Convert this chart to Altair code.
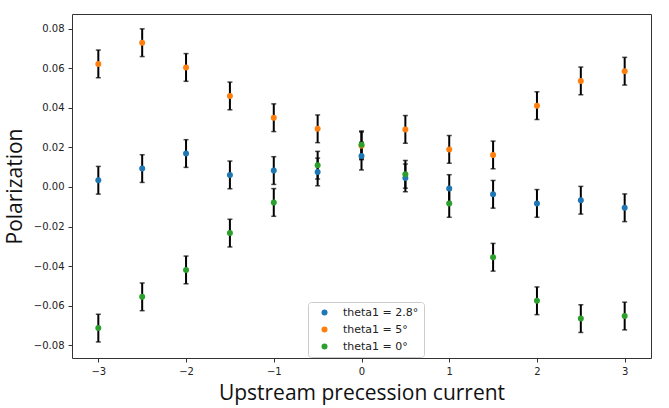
import altair as alt
import pandas as pd

x_vals = [-3, -2.5, -2, -1.5, -1, -0.5, 0, 0.5, 1, 1.5, 2, 2.5, 3]
series_names = ["theta1 = 2.8°", "theta1 = 5°", "theta1 = 0°"]
series_colors = ["#1f77b4", "#ff7f0e", "#2ca02c"]

pol_28 = [0.0034, 0.0093, 0.0169, 0.0061, 0.0083, 0.0076, 0.0156, 0.0046, -0.0008, -0.0037, -0.0083, -0.0067, -0.0105]
pol_5 = [0.0622, 0.0729, 0.0604, 0.0460, 0.0350, 0.0294, 0.0208, 0.0291, 0.0190, 0.0162, 0.0411, 0.0536, 0.0585]
pol_0 = [-0.0713, -0.0555, -0.0419, -0.0233, -0.0078, 0.0110, 0.0213, 0.0064, -0.0083, -0.0355, -0.0575, -0.0665, -0.0652]
err = 0.007

rows = []
for k, (name, vals) in enumerate(zip(series_names, [pol_28, pol_5, pol_0])):
    for xv, yv in zip(x_vals, vals):
        rows.append({"series": name, "order": k, "x": xv, "y": yv,
                     "lo": yv - err, "hi": yv + err})
df = pd.DataFrame(rows)

xscale = alt.Scale(domain=[-3.3, 3.3], nice=False, zero=False)
yscale = alt.Scale(domain=[-0.0864, 0.0874], nice=False, zero=False)
color = alt.Color("series:N",
                  scale=alt.Scale(domain=series_names, range=series_colors),
                  legend=alt.Legend(title=None, orient="none", legendX=236, legendY=288,
                                    symbolType="circle", symbolSize=36, symbolOffset=6,
                                    labelFont="DejaVu Sans", labelFontSize=11,
                                    labelColor="#222", rowPadding=5, labelOffset=13,
                                    padding=5, strokeColor="#cccccc", fillColor="white",
                                    cornerRadius=3, symbolStrokeWidth=0))

xax = alt.Axis(title="Upstream precession current", values=x_vals[::2], format="d",
               grid=False, domain=False, tickSize=4, tickColor="#333", labelFont="DejaVu Sans",
               labelFontSize=10, labelColor="#222", labelPadding=4,
               titleFont="Open Sans", titleFontSize=21, titleFontWeight="normal",
               titleColor="#111", titleY=41, titleBaseline="alphabetic")
yax = alt.Axis(title="Polarization", values=[-0.08, -0.06, -0.04, -0.02, 0, 0.02, 0.04, 0.06, 0.08],
               format=".2f", grid=False, domain=False, tickSize=4, tickColor="#333",
               labelFont="DejaVu Sans", labelFontSize=10, labelColor="#222", labelPadding=4,
               titleFont="Open Sans", titleFontSize=21, titleFontWeight="normal",
               titleColor="#111", titleX=-51, titleBaseline="alphabetic", titleAngle=-90)

base = alt.Chart(df)
bars = base.mark_rule(color="black", strokeWidth=2).encode(
    x=alt.X("x:Q", scale=xscale, axis=xax),
    y=alt.Y("lo:Q", scale=yscale, axis=yax),
    y2="hi:Q")
cap_lo = base.mark_tick(color="black", orient="horizontal", thickness=1.5, size=5).encode(
    x=alt.X("x:Q", scale=xscale), y=alt.Y("lo:Q", scale=yscale))
cap_hi = base.mark_tick(color="black", orient="horizontal", thickness=1.5, size=5).encode(
    x=alt.X("x:Q", scale=xscale), y=alt.Y("hi:Q", scale=yscale))
pts = base.mark_circle(size=36, opacity=1).encode(
    x=alt.X("x:Q", scale=xscale), y=alt.Y("y:Q", scale=yscale),
    color=color, order=alt.Order("order:Q"))

chart = alt.layer(bars, cap_lo, cap_hi, pts).properties(
    width=579, height=344,
    autosize=alt.AutoSizeParams(type="none"),
    padding={"left": 72, "top": 14, "right": 18, "bottom": 50},
    background="white",
).configure_view(stroke="#333", strokeWidth=1)

chart.save("out.html", embed_options={"renderer": "svg", "actions": False})
